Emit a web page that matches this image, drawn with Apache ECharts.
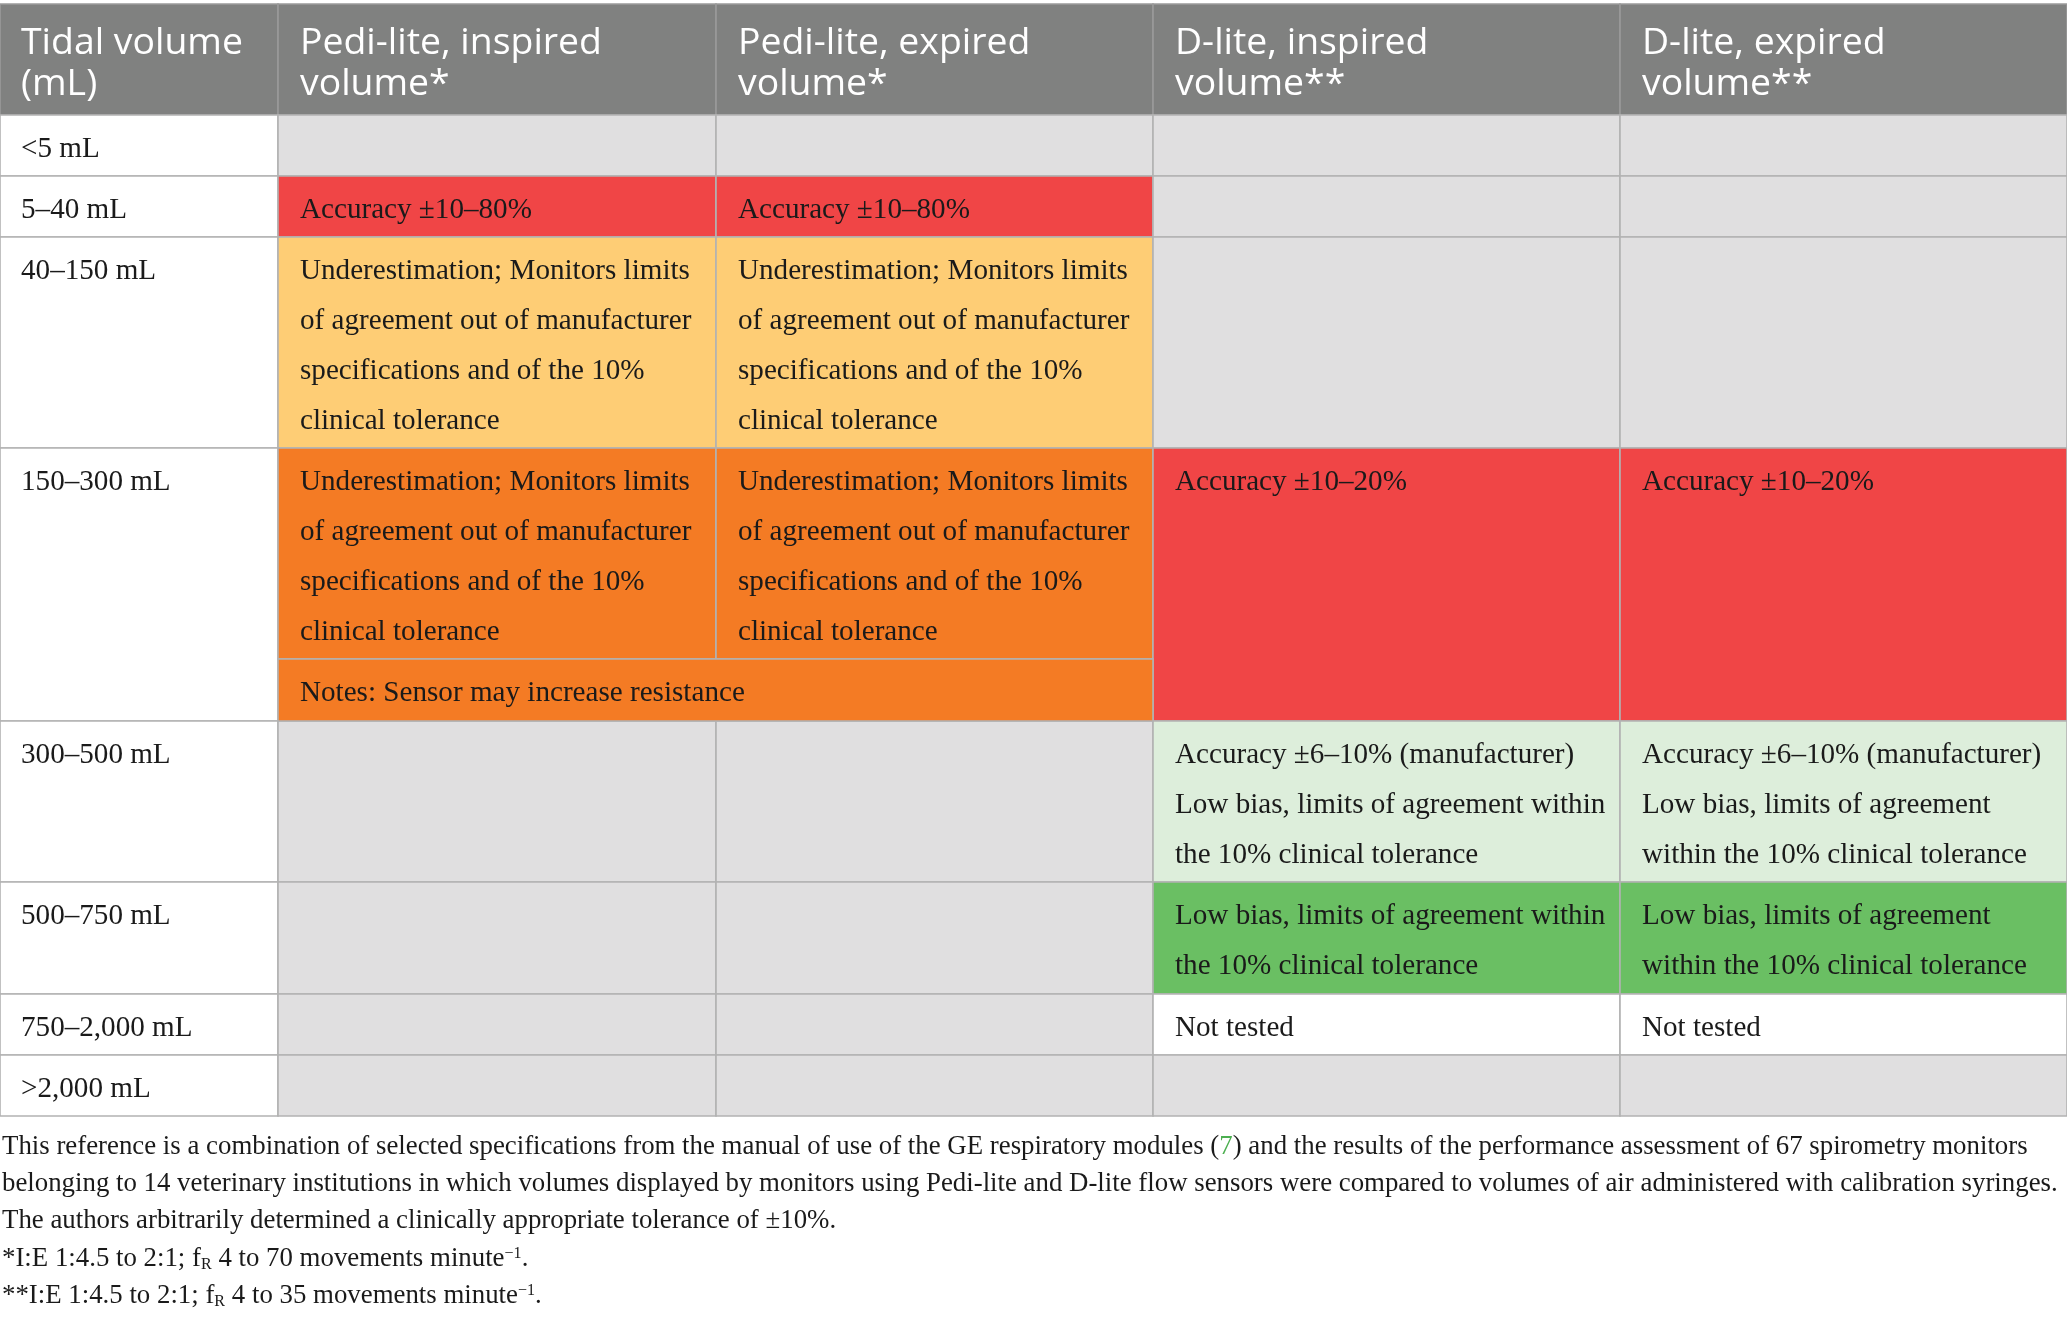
<!DOCTYPE html>
<html><head><meta charset="utf-8">
<script src="https://cdn.jsdelivr.net/npm/echarts@6/dist/echarts.min.js"></script>
<style>html,body{margin:0;padding:0;background:#fff}#c{width:2067px;height:1321px}</style>
</head><body><div id="c"></div>
<script>
// ---------------- data ----------------
const headers = ['Tidal volume\n(mL)', 'Pedi-lite, inspired\nvolume*', 'Pedi-lite, expired\nvolume*', 'D-lite, inspired\nvolume**', 'D-lite, expired\nvolume**'];
const rowLabels = ['<5 mL', '5–40 mL', '40–150 mL', '150–300 mL', '300–500 mL', '500–750 mL', '750–2,000 mL', '>2,000 mL'];

const pediInspiredStatus = ['na', 'red', 'amber', 'orange', 'na', 'na', 'na', 'na'];
const pediExpiredStatus  = ['na', 'red', 'amber', 'orange', 'na', 'na', 'na', 'na'];
const dliteInspiredStatus = ['na', 'na', 'na', 'red', 'pale', 'green', 'open', 'na'];
const dliteExpiredStatus  = ['na', 'na', 'na', 'red', 'pale', 'green', 'open', 'na'];

const underText = 'Underestimation; Monitors limits\nof agreement out of manufacturer\nspecifications and of the 10%\nclinical tolerance';
const pediInspiredText = ['', 'Accuracy ±10–80%', underText, underText, '', '', '', ''];
const pediExpiredText  = ['', 'Accuracy ±10–80%', underText, underText, '', '', '', ''];
const dliteInspiredText = ['', '', '', 'Accuracy ±10–20%',
  'Accuracy ±6–10% (manufacturer)\nLow bias, limits of agreement within\nthe 10% clinical tolerance',
  'Low bias, limits of agreement within\nthe 10% clinical tolerance', 'Not tested', ''];
const dliteExpiredText = ['', '', '', 'Accuracy ±10–20%',
  'Accuracy ±6–10% (manufacturer)\nLow bias, limits of agreement\nwithin the 10% clinical tolerance',
  'Low bias, limits of agreement\nwithin the 10% clinical tolerance', 'Not tested', ''];

const pediNote = 'Notes: Sensor may increase resistance';
const pediNoteRow = 3;

const footnotes = [
  'This reference is a combination of selected specifications from the manual of use of the GE respiratory modules ({ref|7}) and the results of the performance assessment of 67 spirometry monitors',
  'belonging to 14 veterinary institutions in which volumes displayed by monitors using Pedi-lite and D-lite flow sensors were compared to volumes of air administered with calibration syringes.',
  'The authors arbitrarily determined a clinically appropriate tolerance of ±10%.',
  '*I:E 1:4.5 to 2:1; f{sub|R} 4 to 70 movements minute{sup|−1}.',
  '**I:E 1:4.5 to 2:1; f{sub|R} 4 to 35 movements minute{sup|−1}.'
];

// ---------------- layout / style ----------------
const W = 2067, H = 1321;
const colEdges = [0, 278, 716, 1153, 1620, 2067];
const headerTop = 4;
const rowEdges = [115, 176, 237, 448, 721, 882, 994, 1055, 1116];
const noteSplit = 659;
const footY = [1147, 1184, 1221, 1259, 1296];
const pad = 22;
const statusColor = { na: '#e0dfe0', red: '#f04546', amber: '#fecd75', orange: '#f47b24', pale: '#ddeedb', green: '#6abf63', open: '#ffffff' };
const SERIF = '"Liberation Serif", "DejaVu Serif", serif';
const SANS = '"Open Sans", "Noto Sans", sans-serif';

const mctx = document.createElement('canvas').getContext('2d');
function fit(text, family, target) {
  mctx.font = '100px ' + family;
  return 100 * target / mctx.measureText(text).width;
}
const bodySize = fit('Underestimation; Monitors limits', SERIF, 390);
const headSize = fit('Pedi-lite, inspired', SANS, 302);
const footSize = fit(footnotes[1], SERIF, 2056);

// ---------------- cells ----------------
const cells = [];
headers.forEach((h, c) => cells.push({ x0: colEdges[c], x1: colEdges[c + 1], y0: headerTop, y1: rowEdges[0], fill: '#808180', text: h, kind: 'head' }));
const colStatus = [null, pediInspiredStatus, pediExpiredStatus, dliteInspiredStatus, dliteExpiredStatus];
const colText = [rowLabels, pediInspiredText, pediExpiredText, dliteInspiredText, dliteExpiredText];
rowLabels.forEach((lab, r) => {
  for (let c = 0; c < 5; c++) {
    const st = c === 0 ? 'open' : colStatus[c][r];
    let y1 = rowEdges[r + 1];
    if ((c === 1 || c === 2) && r === pediNoteRow) y1 = noteSplit;
    cells.push({ x0: colEdges[c], x1: colEdges[c + 1], y0: rowEdges[r], y1: y1, fill: statusColor[st], text: colText[c][r], kind: 'body' });
  }
});
cells.push({ x0: colEdges[1], x1: colEdges[3], y0: noteSplit, y1: rowEdges[pediNoteRow + 1], fill: statusColor[pediExpiredStatus[pediNoteRow]], text: pediNote, kind: 'note' });

const chart = echarts.init(document.getElementById('c'), null, { renderer: 'canvas' });
const footRich = {
  ref: { fill: '#4caf50', fontSize: footSize, fontFamily: SERIF },
  sub: { fill: '#1a1a1a', fontSize: footSize * 0.6, fontFamily: SERIF, verticalAlign: 'bottom' },
  sup: { fill: '#1a1a1a', fontSize: footSize * 0.6, fontFamily: SERIF, verticalAlign: 'top' }
};

chart.setOption({
  animation: false,
  grid: { left: 0, right: 0, top: 0, bottom: 0 },
  xAxis: { type: 'value', min: 0, max: W, show: false },
  yAxis: { type: 'value', min: 0, max: H, inverse: true, show: false },
  series: [{
    type: 'custom',
    clip: false,
    silent: true,
    data: cells.map(c => [c.x0, c.x1, c.y0, c.y1]),
    renderItem: function (params, api) {
      const c = cells[params.dataIndex];
      const p0 = api.coord([api.value(0), api.value(2)]);
      const p1 = api.coord([api.value(1), api.value(3)]);
      const head = c.kind === 'head';
      const children = [{
        type: 'rect',
        shape: { x: p0[0], y: p0[1], width: p1[0] - p0[0], height: p1[1] - p0[1] },
        style: { fill: c.fill, stroke: head ? '#9a9a9a' : '#b2b2b2', lineWidth: 1.6 }
      }];
      if (c.text) {
        children.push({
          type: 'text',
          style: {
            text: c.text,
            x: p0[0] + (c.x0 === 0 ? pad - 1 : pad),
            y: head ? p0[1] + 19 : p0[1] + 9,
            fill: head ? '#ffffff' : '#1a1a1a',
            fontSize: head ? headSize : bodySize,
            fontFamily: head ? SANS : SERIF,
            lineHeight: head ? 41 : 50,
            align: 'left', verticalAlign: 'top',
            textAlign: 'left', textVerticalAlign: 'top'
          }
        });
      }
      return { type: 'group', children: children };
    }
  }],
  graphic: footnotes.map((t, i) => ({
    type: 'text',
    x: 2, y: footY[i],
    silent: true,
    style: {
      text: t, fill: '#1a1a1a', fontSize: footSize, fontFamily: SERIF,
      verticalAlign: 'middle', textVerticalAlign: 'middle', rich: footRich
    }
  }))
});
</script></body></html>
